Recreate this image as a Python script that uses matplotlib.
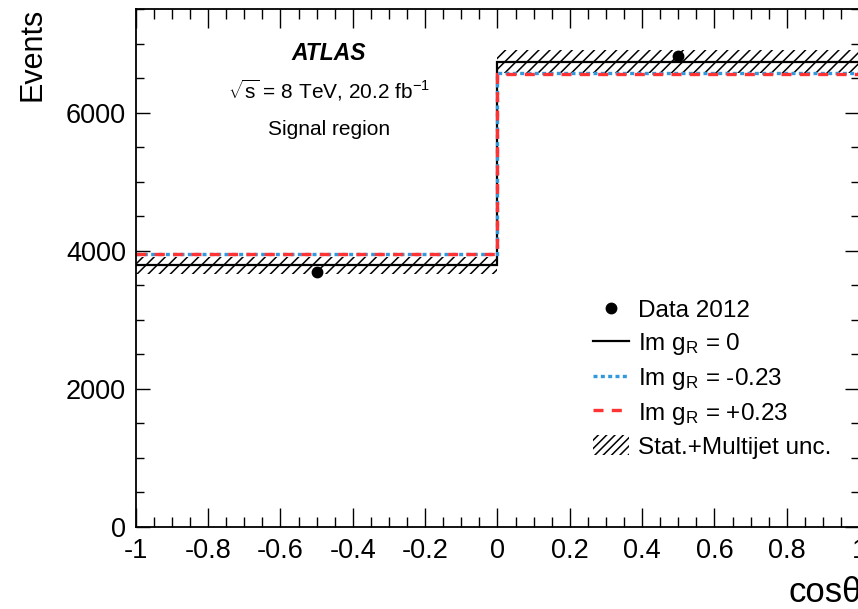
#!/usr/bin/python

import matplotlib
matplotlib.use("Agg")
import matplotlib.pyplot as plt
from matplotlib.lines import Line2D
from matplotlib.patches import Patch
from matplotlib.ticker import MultipleLocator

# bin edges in cos(theta) and predicted yields
edges = [-1.0, 0.0, 1.0]
pred_nominal = [3788, 6738]     # Im gR = 0
pred_minus = [3950, 6572]       # Im gR = -0.23
pred_plus = [3955, 6565]        # Im gR = +0.23
unc = [120, 170]                # Stat.+Multijet unc.

data_x = [-0.5, 0.5]
data_y = [3686, 6820]

xticks = [-1, -0.8, -0.6, -0.4, -0.2, 0, 0.2, 0.4, 0.6, 0.8, 1]
xticklabels = ["-1", "-0.8", "-0.6", "-0.4", "-0.2", "0", "0.2", "0.4", "0.6", "0.8", "1"]
yticks = [0, 2000, 4000, 6000]

plt.rcParams['font.family'] = ['Liberation Sans', 'DejaVu Sans']
plt.rcParams['mathtext.fontset'] = 'custom'
plt.rcParams['mathtext.rm'] = 'Liberation Sans'
plt.rcParams['mathtext.it'] = 'Liberation Sans:italic'
plt.rcParams['hatch.linewidth'] = 1.1


def main():
    fig = plt.figure(figsize=(8.58, 6.09), dpi=100)
    ax = fig.add_axes([0.1583, 0.1351, 0.843, 0.850])

    # uncertainty band
    lows = [p - u for p, u in zip(pred_nominal, unc)]
    widths = [edges[i + 1] - edges[i] for i in range(len(edges) - 1)]
    ax.bar(edges[:-1], [2 * u for u in unc], width=widths, bottom=lows, align='edge',
           fill=False, hatch='///', linewidth=0, edgecolor='black')

    ax.stairs(pred_nominal, edges, baseline=None, color='black', lw=1.6)
    ax.stairs(pred_minus, edges, baseline=None, color='#3399dd', lw=2.4,
              linestyle=(0, (1.2, 1.0)))
    ax.stairs(pred_plus, edges, baseline=None, color='#ff3333', lw=2.4,
              linestyle=(0, (3, 2.5)))
    ax.plot(data_x, data_y, 'o', color='black', markersize=7.5, zorder=5)

    ax.set_xlim(-1, 1)
    ax.set_ylim(0, 7500)
    ax.set_xticks(xticks)
    ax.set_xticklabels(xticklabels, fontsize=19.5)
    ax.set_yticks(yticks)
    ax.set_yticklabels([str(v) for v in yticks], fontsize=19.5)
    ax.xaxis.set_minor_locator(MultipleLocator(0.05))
    ax.yaxis.set_minor_locator(MultipleLocator(500))
    ax.tick_params(which='both', direction='in', top=True, right=True, width=1.0)
    ax.tick_params(which='major', axis='x', length=14, pad=8)
    ax.tick_params(which='minor', axis='x', length=7.5)
    ax.tick_params(which='major', axis='y', length=10, pad=7)
    ax.tick_params(which='minor', axis='y', length=5.5)
    for sp in ax.spines.values():
        sp.set_linewidth(1.3)

    fig.text(0.038, 0.987, "Events", rotation=90, ha='center', va='top', fontsize=22)
    fig.text(788 / 858, 0.012, "cos\u03b8", ha='left', va='baseline', fontsize=25)

    ax.text(0.267, 0.915, "ATLAS", transform=ax.transAxes, ha='center', va='center',
            fontsize=16.5, fontweight='bold', fontstyle='italic')
    ax.text(0.267, 0.842, r"$\sqrt{\mathrm{s}}$ = 8 TeV, 20.2 fb$^{\mathrm{-1}}$",
            transform=ax.transAxes, ha='center', va='center', fontsize=15)
    ax.text(0.267, 0.768, "Signal region", transform=ax.transAxes, ha='center',
            va='center', fontsize=15)

    handles = [
        Line2D([], [], marker='o', color='black', linestyle='none', markersize=7.5),
        Line2D([], [], color='black', lw=1.6),
        Line2D([], [], color='#3399dd', lw=2.4, linestyle=(0, (1.2, 1.0))),
        Line2D([], [], color='#ff3333', lw=2.4, linestyle=(0, (3, 2.5))),
        Patch(facecolor='white', edgecolor='black', hatch='////', linewidth=0),
    ]
    labels = ["Data 2012", r"Im g$_{\mathrm{R}}$ = 0", r"Im g$_{\mathrm{R}}$ = -0.23",
              r"Im g$_{\mathrm{R}}$ = +0.23", "Stat.+Multijet unc."]
    ax.legend(handles, labels, loc='upper left', bbox_to_anchor=(0.618, 0.459),
              frameon=False, fontsize=17.5, handlelength=1.5, handletextpad=0.35,
              handleheight=0.9, labelspacing=0.36, borderaxespad=0)

    fig.savefig("out.png", dpi=100)


if __name__ == "__main__":
    main()
